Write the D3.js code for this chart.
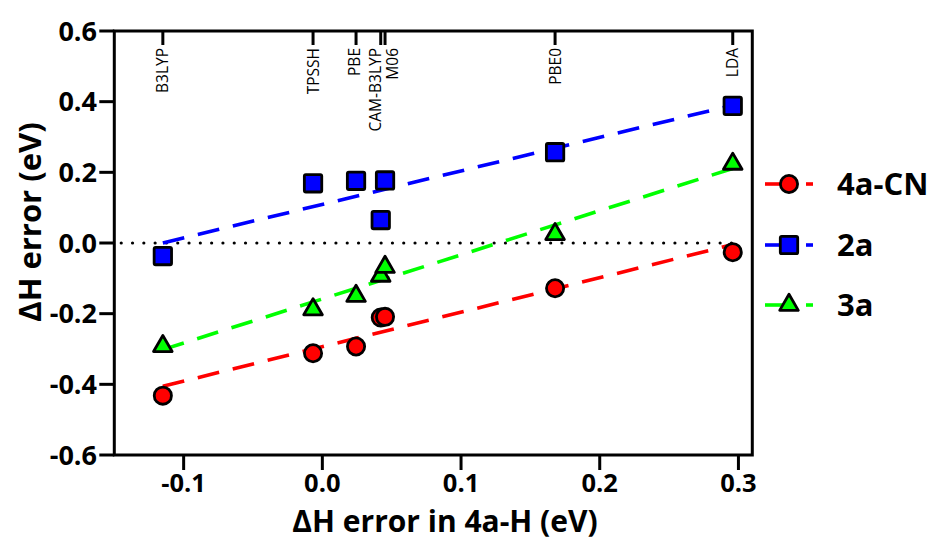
<!DOCTYPE html>
<html>
<head>
<meta charset="utf-8">
<script src="https://cdn.jsdelivr.net/npm/d3@7"></script>
<style>
  html, body { margin: 0; padding: 0; background: #fff; }
  svg { display: block; }
</style>
</head>
<body>
<script>
// ---- data ----
const functionals = ["B3LYP", "TPSSH", "PBE", "CAM-B3LYP", "M06", "PBE0", "LDA"];
const xErr4aH     = [-0.115, -0.0067, 0.0243, 0.0421, 0.0452, 0.1678, 0.2959];
const err4aCN     = [-0.432, -0.312, -0.293, -0.211, -0.209, -0.128, -0.026];
const err2a       = [-0.037, 0.169, 0.176, 0.065, 0.177, 0.257, 0.388];
const err3a       = [-0.292, -0.188, -0.150, -0.093, -0.068, 0.025, 0.224];
const seriesNames = ["4a-CN", "2a", "3a"];
const xTickLabels = ["-0.1", "0.0", "0.1", "0.2", "0.3"];
const yTickLabels = ["-0.6", "-0.4", "-0.2", "0.0", "0.2", "0.4", "0.6"];

const W = 931, H = 542;
const svg = d3.select("body").append("svg").attr("width", W).attr("height", H);
svg.append("rect").attr("width", W).attr("height", H).attr("fill", "#fff");

const x = d3.scaleLinear().domain([-0.15, 0.31]).range([114.3, 752.3]);
const y = d3.scaleLinear().domain([-0.6, 0.6]).range([455, 31]);
const X0 = x.range()[0], X1 = x.range()[1], Y0 = y.range()[0], Y1 = y.range()[1];

const boldFont = "'Open Sans', 'Liberation Sans', sans-serif";
const series = [
  {name: seriesNames[0], vals: err4aCN, color: "#ff0000", shape: "circle"},
  {name: seriesNames[1], vals: err2a,   color: "#0000ff", shape: "square"},
  {name: seriesNames[2], vals: err3a,   color: "#00ff00", shape: "triangle"}
];

// zero dotted line
svg.append("line")
  .attr("x1", x(-0.145)).attr("x2", x(0.300))
  .attr("y1", y(0)).attr("y2", y(0))
  .attr("stroke", "#000").attr("stroke-width", 3.2)
  .attr("stroke-linecap", "round")
  .attr("stroke-dasharray", "0,11.3");

// regression lines
function fit(xs, ys) {
  const mx = d3.mean(xs), my = d3.mean(ys);
  let sxy = 0, sxx = 0;
  xs.forEach((v, i) => { sxy += (v - mx) * (ys[i] - my); sxx += (v - mx) * (v - mx); });
  const b = sxy / sxx;
  return v => my + b * (v - mx);
}
const xmin = d3.min(xErr4aH), xmax = d3.max(xErr4aH);
[1, 2, 0].forEach(k => {
  const s = series[k];
  const f = fit(xErr4aH, s.vals);
  svg.append("line")
    .attr("x1", x(xmin)).attr("y1", y(f(xmin)))
    .attr("x2", x(xmax)).attr("y2", y(f(xmax)))
    .attr("stroke", s.color).attr("stroke-width", 3.6)
    .attr("stroke-dasharray", "22,14");
});

// markers
function drawMarker(g, shape, color, cx, cy) {
  if (shape === "circle") {
    g.append("circle").attr("cx", cx).attr("cy", cy).attr("r", 8.6)
      .attr("fill", color).attr("stroke", "#000").attr("stroke-width", 2.8);
  } else if (shape === "square") {
    g.append("rect").attr("x", cx - 8.7).attr("y", cy - 8.7)
      .attr("width", 17.4).attr("height", 17.4).attr("rx", 1.5)
      .attr("fill", color).attr("stroke", "#000").attr("stroke-width", 2.8)
      .attr("stroke-linejoin", "round");
  } else {
    const sym = d3.symbol().type(d3.symbolTriangle).size(150);
    g.append("path").attr("d", sym()).attr("transform", `translate(${cx},${cy})`)
      .attr("fill", color).attr("stroke", "#000").attr("stroke-width", 2.8)
      .attr("stroke-linejoin", "round");
  }
}
const gm = svg.append("g");
[1, 2, 0].forEach(k => {
  const s = series[k];
  s.vals.forEach((v, i) => drawMarker(gm, s.shape, s.color, x(xErr4aH[i]), y(v)));
});

// frame
const frame = svg.append("g").attr("stroke", "#000").attr("stroke-width", 3).attr("fill", "none");
frame.append("path").attr("d", `M${X0},${Y1}H${X1}V${Y0}H${X0}Z`).attr("stroke-linejoin", "miter");

// y axis ticks & labels
yTickLabels.forEach(lbl => {
  const t = +lbl;
  frame.append("line").attr("x1", X0 - 15).attr("x2", X0).attr("y1", y(t)).attr("y2", y(t));
  svg.append("text").attr("x", 97).attr("y", y(t)).attr("dy", "0.36em")
    .attr("text-anchor", "end").attr("font-family", boldFont)
    .attr("font-weight", "bold").attr("font-size", 27).text(lbl);
});

// x axis ticks & labels
xTickLabels.forEach(lbl => {
  const t = +lbl;
  frame.append("line").attr("x1", x(t)).attr("x2", x(t)).attr("y1", Y0).attr("y2", Y0 + 15);
  svg.append("text").attr("x", x(t)).attr("y", 492)
    .attr("text-anchor", "middle").attr("font-family", boldFont)
    .attr("font-weight", "bold").attr("font-size", 25.5).text(lbl);
});

// top functional ticks & labels
const labelShift = {"CAM-B3LYP": -5, "M06": 7, "PBE": -2};
functionals.forEach((fn, i) => {
  const px = x(xErr4aH[i]);
  frame.append("line").attr("x1", px).attr("x2", px).attr("y1", Y1).attr("y2", Y1 + 14);
  const lx = px + (labelShift[fn] || 0);
  svg.append("text")
    .attr("transform", `translate(${lx},48) rotate(-90)`)
    .attr("dy", "0.36em").attr("text-anchor", "end")
    .attr("font-family", "'Open Sans', 'Liberation Sans', sans-serif")
    .attr("font-size", 15.5).text(fn);
});

// axis titles
svg.append("text").attr("x", 445).attr("y", 532).attr("text-anchor", "middle")
  .attr("font-family", boldFont).attr("font-weight", "bold").attr("font-size", 30)
  .text("ΔH error in 4a-H (eV)");
svg.append("text").attr("transform", "translate(41,222) rotate(-90)")
  .attr("text-anchor", "middle")
  .attr("font-family", boldFont).attr("font-weight", "bold").attr("font-size", 31)
  .text("ΔH error (eV)");

// legend
const legY = [184, 245, 305];
series.forEach((s, k) => {
  const g = svg.append("g");
  g.append("line").attr("x1", 765).attr("x2", 785).attr("y1", legY[k]).attr("y2", legY[k])
    .attr("stroke", s.color).attr("stroke-width", 3.6);
  g.append("line").attr("x1", 806).attr("x2", 813).attr("y1", legY[k]).attr("y2", legY[k])
    .attr("stroke", s.color).attr("stroke-width", 3.6);
  drawMarker(g, s.shape, s.color, 789, legY[k]);
  g.append("text").attr("x", 837).attr("y", legY[k]).attr("dy", "0.36em")
    .attr("font-family", boldFont).attr("font-weight", "bold").attr("font-size", 31)
    .text(s.name);
});
</script>
</body>
</html>
